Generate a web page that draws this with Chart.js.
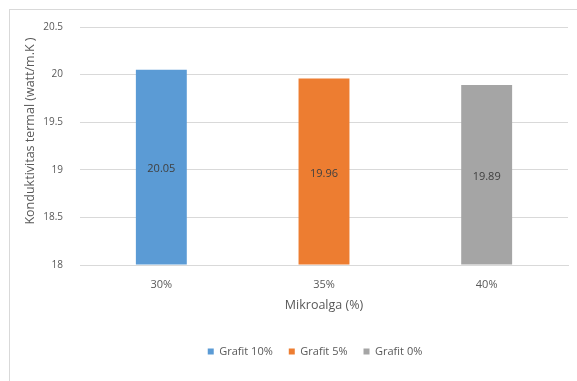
<!DOCTYPE html>
<html>
<head>
<meta charset="utf-8">
<script src="https://cdn.jsdelivr.net/npm/chart.js@4.4.0/dist/chart.umd.min.js"></script>
<style>
  html, body { margin: 0; padding: 0; background: #fff; overflow: hidden; }
  #wrap { position: relative; width: 577px; height: 381px; }
  #frame { position: absolute; left: 9px; top: 9px; width: 640px; height: 420px; border: 1px solid #d9d9d9; }
  #canvas-1 { position: absolute; left: 0; top: 0; }
</style>
</head>
<body>
<div id="wrap">
  <div id="frame"></div>
  <canvas id="canvas-1" width="577" height="381"></canvas>
</div>
<script>
  var categories = ['30%', '35%', '40%'];
  var grafit10 = [20.05, null, null];
  var grafit5 = [null, 19.96, null];
  var grafit0 = [null, null, 19.89];
  var seriesNames = ['Grafit 10%', 'Grafit 5%', 'Grafit 0%'];
  var yTicks = [18, 18.5, 19, 19.5, 20, 20.5];
  var yTitle = 'Konduktivitas termal (watt/m.K )';

  var fontFamily = "'Open Sans', 'Liberation Sans', sans-serif";

  // value printed in the middle of every bar, plus the y axis title
  var barValues = {
    id: 'barValues',
    afterDraw: function(chart) {
      var c = chart.ctx;
      c.save();
      c.font = '11px ' + fontFamily;
      c.fillStyle = '#404040';
      c.textAlign = 'center';
      c.textBaseline = 'middle';
      chart.data.datasets.forEach(function(ds, i) {
        var meta = chart.getDatasetMeta(i);
        meta.data.forEach(function(bar, j) {
          var v = ds.data[j];
          if (v === null || v === undefined) return;
          var p = bar.getProps(['x', 'y', 'base'], true);
          c.fillText(v.toFixed(2), p.x, (p.y + p.base) / 2 + 2);
        });
      });

      var y = chart.scales.y;
      c.font = '12.5px ' + fontFamily;
      c.fillStyle = '#595959';
      c.translate(y.left + 20, (y.top + y.bottom) / 2 - 15);
      c.rotate(-Math.PI / 2);
      c.fillText(yTitle, 0, 0);
      c.restore();
    }
  };

  var shiftLegend = {
    id: 'shiftLegend',
    afterLayout: function(chart) {
      chart.legend.left += 26;
      chart.legend.right += 26;
    }
  };

  var barChartData = {
    labels: categories,
    datasets: [
      { label: seriesNames[0], data: grafit10, backgroundColor: '#5b9bd5' },
      { label: seriesNames[1], data: grafit5, backgroundColor: '#ed7d31' },
      { label: seriesNames[2], data: grafit0, backgroundColor: '#a5a5a5' }
    ]
  };

  var ctx = document.getElementById('canvas-1');
  var chart = new Chart(ctx, {
    type: 'bar',
    data: barChartData,
    plugins: [barValues, shiftLegend],
    options: {
      responsive: false,
      animation: false,
      skipNull: true,
      base: yTicks[0],
      categoryPercentage: 1,
      barPercentage: 0.313,
      layout: { padding: { left: 10, right: 9, top: 27, bottom: 14 } },
      plugins: {
        tooltip: { enabled: false },
        legend: {
          position: 'bottom',
          labels: {
            boxWidth: 6,
            boxHeight: 6,
            padding: 16,
            color: '#595959',
            font: { family: fontFamily, size: 11 }
          }
        }
      },
      scales: {
        x: {
          grid: { display: false, drawTicks: false },
          border: { color: '#d9d9d9' },
          ticks: { padding: 13, color: '#595959', font: { family: fontFamily, size: 11 } },
          title: {
            display: true,
            text: 'Mikroalga (%)',
            color: '#595959',
            font: { family: fontFamily, size: 12.5 },
            padding: { top: 0, bottom: 17 }
          },
          afterFit: function(scale) { scale.height = 65; }
        },
        y: {
          min: 18,
          max: 20.5,
          afterBuildTicks: function(scale) {
            scale.ticks = yTicks.map(function(v) { return { value: v }; });
          },
          grid: { color: '#d9d9d9', drawTicks: false },
          border: { display: false },
          ticks: {
            padding: 17,
            color: '#595959',
            font: { family: fontFamily, size: 10 },
            callback: function(v) { return String(v); }
          },
          afterFit: function(scale) { scale.width = 70; }
        }
      }
    }
  });
</script>
</body>
</html>
